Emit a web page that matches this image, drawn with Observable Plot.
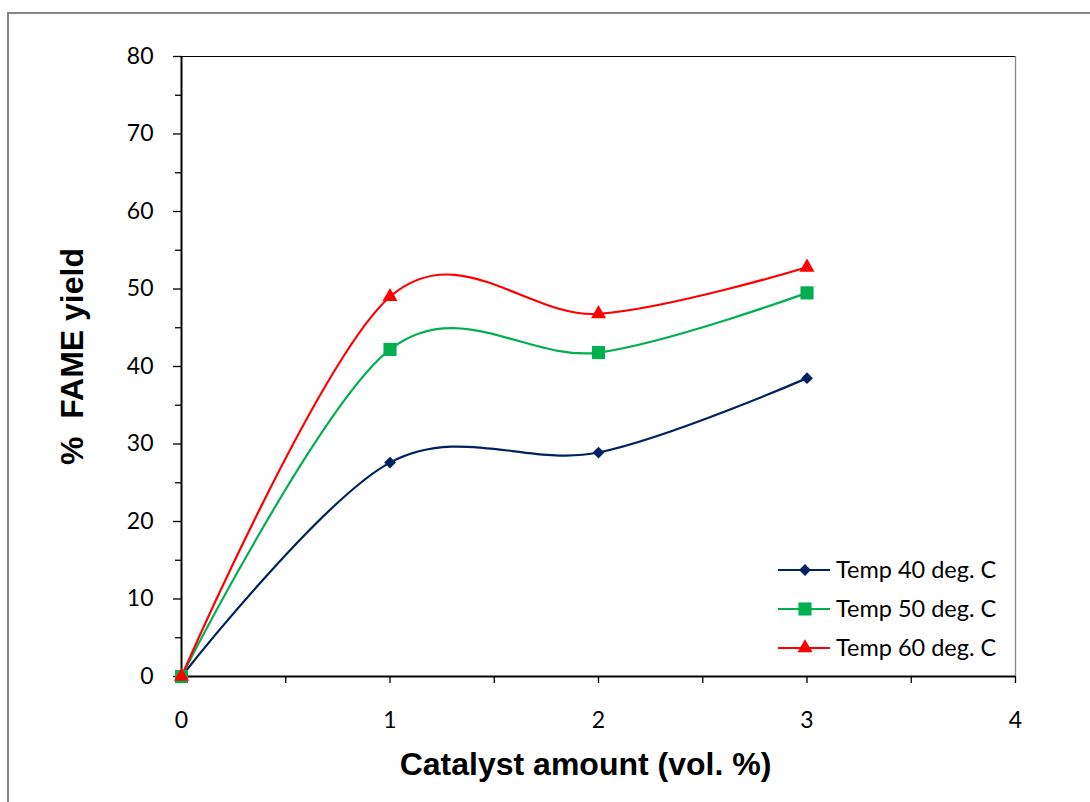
<!DOCTYPE html>
<html>
<head>
<meta charset="utf-8">
<script src="https://cdn.jsdelivr.net/npm/d3@7"></script>
<script src="https://cdn.jsdelivr.net/npm/@observablehq/plot@0.6"></script>
<style>
  html, body { margin: 0; padding: 0; background: #fff; }
  #wrap { position: relative; width: 1090px; height: 802px; overflow: hidden; }
  #border { position: absolute; left: 7px; top: 12px; width: 1200px; height: 1000px;
            border-left: 2px solid #878787; border-top: 2px solid #878787; }
  #chart { position: absolute; left: 0; top: 0; }
  #legend { position: absolute; left: 0; top: 0; }
  #chart [aria-label$="tick label"], #chart [aria-label$="tick label"] text { font-size: 23px; font-family: Lato, 'Open Sans', sans-serif; }
</style>
</head>
<body>
<div id="wrap"><div id="border"></div><div id="chart"></div><svg id="legend" width="1090" height="802"></svg></div>
<script>
const catalyst = [0, 1, 2, 3];
const temp40 = [0, 27.6, 28.9, 38.5];
const temp50 = [0, 42.2, 41.8, 49.5];
const temp60 = [0, 49.0, 46.8, 52.8];
const seriesNames = ["Temp 40 deg. C", "Temp 50 deg. C", "Temp 60 deg. C"];
const seriesColors = ["#002060", "#00B050", "#FF0000"];
const seriesSymbols = ["diamond2", "square", "triangle"];
const seriesR = [5.3, 7.4, 5.6];
const yTicks = [0, 10, 20, 30, 40, 50, 60, 70, 80];
const yMinor = [5, 15, 25, 35, 45, 55, 65, 75];
const xTicks = [0, 1, 2, 3, 4];
const xMinor = [0.5, 1.5, 2.5, 3.5];

const allVals = [temp40, temp50, temp60];
const data = [];
allVals.forEach((vals, i) => vals.forEach((v, j) => data.push({series: seriesNames[i], x: catalyst[j], y: v})));

const tickFont = "Lato, 'Open Sans', sans-serif";
const titleFont = "'Liberation Sans', Arial, sans-serif";

const marks = [
  Plot.ruleY([80], {stroke: "#000", strokeWidth: 1}),
  Plot.ruleX([4], {stroke: "#878787", strokeWidth: 1.3}),
  Plot.axisY({ticks: yMinor, tickSize: 6, tickFormat: () => "", stroke: "#000", strokeWidth: 1.3, label: null}),
  Plot.axisY({ticks: yTicks, tickSize: 8, tickPadding: 20, tickFormat: d3.format("d"), fontSize: 23, stroke: "#000", strokeWidth: 1.3, label: null}),
  Plot.axisX({ticks: xMinor, tickSize: 7, tickFormat: () => "", stroke: "#000", strokeWidth: 1.3, label: null}),
  Plot.axisX({ticks: xTicks, tickSize: 7, tickPadding: 28, tickFormat: d3.format("d"), fontSize: 23, stroke: "#000", strokeWidth: 1.3, label: null}),
];
seriesNames.forEach((name, i) => {
  const d = data.filter(r => r.series === name);
  marks.push(Plot.line(d, {x: "x", y: "y", curve: "cardinal", tension: 0, stroke: seriesColors[i], strokeWidth: 2.2}));
});
marks.push(Plot.ruleX([0], {stroke: "#000", strokeWidth: 2}));
marks.push(Plot.ruleY([0], {stroke: "#000", strokeWidth: 2.2}));
seriesNames.forEach((name, i) => {
  const d = data.filter(r => r.series === name);
  marks.push(Plot.dot(d, {x: "x", y: "y", symbol: () => seriesSymbols[i], r: seriesR[i], fill: seriesColors[i], stroke: "none"}));
});
marks.push(Plot.text(["Catalyst amount (vol. %)"], {frameAnchor: "bottom", dx: -13, dy: 88, lineAnchor: "middle", textAnchor: "middle", fontSize: 32, fontWeight: "bold", fontFamily: titleFont, fill: "#000"}));
marks.push(Plot.text(["%  FAME yield"], {frameAnchor: "left", dx: -109, dy: -10, rotate: -90, lineAnchor: "middle", textAnchor: "middle", fontSize: 32, fontWeight: "bold", fontFamily: titleFont, fill: "#000"}));

const chart = Plot.plot({
  width: 1090,
  height: 802,
  marginLeft: 181,
  marginRight: 75,
  marginTop: 56,
  marginBottom: 126,
  style: {fontFamily: tickFont, fontSize: "23px", color: "#000", background: "transparent", overflow: "visible"},
  x: {domain: [0, 4]},
  y: {domain: [0, 80]},
  marks
});
document.getElementById("chart").appendChild(chart);

// legend
const lg = d3.select("#legend");
const symMap = {diamond2: d3.symbolDiamond2, square: d3.symbolSquare, triangle: d3.symbolTriangle};
seriesNames.forEach((name, i) => {
  const y = 570 + i * 39;
  lg.append("line").attr("x1", 778).attr("x2", 830).attr("y1", y).attr("y2", y)
    .attr("stroke", seriesColors[i]).attr("stroke-width", 2.2);
  lg.append("path").attr("transform", `translate(805,${y})`)
    .attr("d", d3.symbol(symMap[seriesSymbols[i]], Math.PI * seriesR[i] * seriesR[i])())
    .attr("fill", seriesColors[i]);
  lg.append("text").attr("x", 836).attr("y", y).attr("dy", "0.35em")
    .attr("font-family", tickFont).attr("font-size", 23.5).attr("fill", "#000").text(name);
});
</script>
</body>
</html>
